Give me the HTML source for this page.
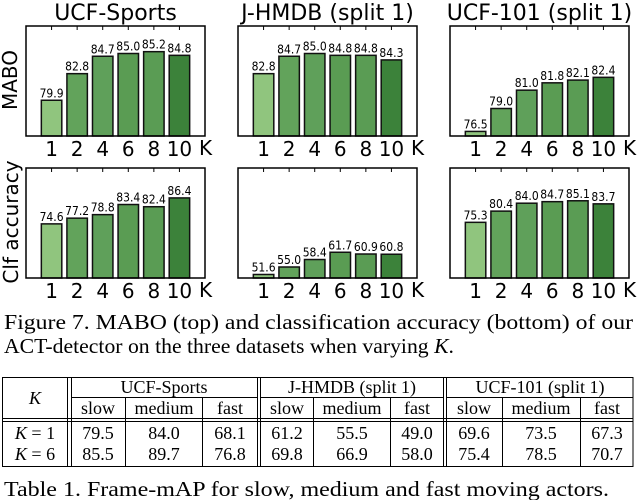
<!DOCTYPE html>
<html><head><meta charset="utf-8">
<style>
html,body{margin:0;padding:0;background:#fff;}
body{width:640px;height:500px;overflow:hidden;position:relative;}
svg{position:absolute;left:0;top:0;}
.ser{font-family:"Liberation Serif",serif;}
</style></head>
<body>
<svg id="fig" width="640" height="500" viewBox="0 0 640 500" xmlns="http://www.w3.org/2000/svg">
  <g id="charts"></g>
  <text x="0" y="0" transform="translate(17,80) rotate(-90)" text-anchor="middle" font-family="DejaVu Sans, sans-serif" font-size="20">MABO</text>
  <text x="0" y="0" transform="translate(18,222) rotate(-90)" text-anchor="middle" font-family="DejaVu Sans, sans-serif" font-size="20">Clf accuracy</text>
  <text class="ser" x="4" y="329" font-size="21" textLength="629" lengthAdjust="spacingAndGlyphs">Figure 7. MABO (top) and classification accuracy (bottom) of our</text>
  <text class="ser" x="4" y="353" font-size="21" textLength="450" lengthAdjust="spacingAndGlyphs">ACT-detector on the three datasets when varying <tspan font-style="italic">K</tspan>.</text>

  <g stroke="#000" stroke-width="1" fill="none">
    <rect x="2.5" y="377.5" width="630.5" height="89"/>
    <line x1="67.5" y1="377" x2="67.5" y2="467"/><line x1="71.5" y1="377" x2="71.5" y2="467"/>
    <line x1="257.5" y1="377" x2="257.5" y2="467"/><line x1="260.5" y1="377" x2="260.5" y2="467"/>
    <line x1="443.5" y1="377" x2="443.5" y2="467"/><line x1="446.5" y1="377" x2="446.5" y2="467"/>
    <line x1="71" y1="397.5" x2="257" y2="397.5"/><line x1="260" y1="397.5" x2="443" y2="397.5"/><line x1="446" y1="397.5" x2="633" y2="397.5"/>
    <line x1="2" y1="418.5" x2="633" y2="418.5"/><line x1="2" y1="421.5" x2="633" y2="421.5"/>
    <line x1="125.5" y1="397" x2="125.5" y2="467"/><line x1="202.5" y1="397" x2="202.5" y2="467"/>
    <line x1="313.5" y1="397" x2="313.5" y2="467"/><line x1="390.5" y1="397" x2="390.5" y2="467"/>
    <line x1="502.5" y1="397" x2="502.5" y2="467"/><line x1="580.5" y1="397" x2="580.5" y2="467"/>
  </g>
  <g class="ser" font-size="18" text-anchor="middle" fill="#000">
    <text x="35" y="404" font-style="italic">K</text>
    <text x="164" y="393">UCF-Sports</text>
    <text x="352" y="393">J-HMDB (split 1)</text>
    <text x="540" y="393">UCF-101 (split 1)</text>
    <g>
      <text x="98" y="414">slow</text><text x="164" y="414">medium</text><text x="230" y="414">fast</text>
      <text x="287" y="414">slow</text><text x="352" y="414">medium</text><text x="417" y="414">fast</text>
      <text x="474" y="414">slow</text><text x="541" y="414">medium</text><text x="607" y="414">fast</text>
    </g>
    <g>
      <text x="35" y="439"><tspan font-style="italic">K</tspan> = 1</text>
      <text x="98" y="439">79.5</text><text x="164" y="439">84.0</text><text x="230" y="439">68.1</text>
      <text x="287" y="439">61.2</text><text x="352" y="439">55.5</text><text x="417" y="439">49.0</text>
      <text x="474" y="439">69.6</text><text x="541" y="439">73.5</text><text x="607" y="439">67.3</text>
    </g>
    <g>
      <text x="35" y="460"><tspan font-style="italic">K</tspan> = 6</text>
      <text x="98" y="460">85.5</text><text x="164" y="460">89.7</text><text x="230" y="460">76.8</text>
      <text x="287" y="460">69.8</text><text x="352" y="460">66.9</text><text x="417" y="460">58.0</text>
      <text x="474" y="460">75.4</text><text x="541" y="460">78.5</text><text x="607" y="460">70.7</text>
    </g>
  </g>
  <text class="ser" x="4" y="496" font-size="21" textLength="605" lengthAdjust="spacingAndGlyphs">Table 1. Frame-mAP for slow, medium and fast moving actors.</text>
</svg>
<script>
const kLabels = ['1','2','4','6','8','10'];
const titles = ['UCF-Sports','J-HMDB (split 1)','UCF-101 (split 1)'];
const maboUCFSports = [79.9,82.8,84.7,85.0,85.2,84.8];
const maboJHMDB = [82.8,84.7,85.0,84.8,84.8,84.3];
const maboUCF101 = [76.5,79.0,81.0,81.8,82.1,82.4];
const clfUCFSports = [74.6,77.2,78.8,83.4,82.4,86.4];
const clfJHMDB = [51.6,55.0,58.4,61.7,60.9,60.8];
const clfUCF101 = [75.3,80.4,84.0,84.7,85.1,83.7];
const maboRange = [76,88];
const clfRange = [50,100];

const NS='http://www.w3.org/2000/svg';
const root=document.getElementById('charts');
const fills=['#90c57e','#62a35b','#5fa05a','#5a9c53','#5a9c54','#3c823a'];
const panelX=[26,238,450];
const PW=179;
function mk(tag,attrs,parent){const e=document.createElementNS(NS,tag);for(const k in attrs)e.setAttribute(k,attrs[k]);parent.appendChild(e);return e;}

function panel(pi,row,values,range,name){
  const x0=panelX[pi];
  const y0=row===0?26:168;
  const H=110;
  const g=mk('g',{},root);
  
  
  const xs=i=>x0+PW*(i+1)/7;
  const ys=v=>y0+H-(v-range[0])/(range[1]-range[0])*H;
  const bw=PW*0.8/7;
  values.forEach((v,i)=>{
    const r=mk('rect',{x:xs(i)-bw/2,y:ys(v),width:bw,height:y0+H-ys(v),fill:fills[i],stroke:'#111','stroke-width':1.5},g);
    
    
    const t=mk('text',{x:xs(i),y:ys(v)-3,'text-anchor':'middle','font-family':'DejaVu Sans, sans-serif','font-size':12,textLength:24,lengthAdjust:'spacingAndGlyphs'},g);
    
    
    t.textContent=v.toFixed(1);
  });
  const box=mk('rect',{x:x0,y:y0,width:PW,height:H,fill:'none',stroke:'#000','stroke-width':1.5},g);
  
  
  kLabels.forEach((k,i)=>{
    mk('line',{x1:xs(i),y1:y0,x2:xs(i),y2:y0+4,stroke:'#000','stroke-width':1},g);
    const t=mk('text',{x:xs(i),y:y0+H+20,'text-anchor':'middle','font-family':'DejaVu Sans, sans-serif','font-size':20},g);
    
    
    t.textContent=k;
  });
  const kt=mk('text',{x:x0+PW-6,y:y0+H+19,'font-family':'DejaVu Sans, sans-serif','font-size':20},g);
  
  
  kt.textContent='K';
  if(row===0){
    const tt=mk('text',{x:x0+PW/2,y:20,'text-anchor':'middle','font-family':'DejaVu Sans, sans-serif','font-size':22},g);
    
    
    tt.textContent=titles[pi];
  }
}
panel(0,0,maboUCFSports,maboRange,'mabo-ucf-sports');
panel(1,0,maboJHMDB,maboRange,'mabo-jhmdb');
panel(2,0,maboUCF101,maboRange,'mabo-ucf101');
panel(0,1,clfUCFSports,clfRange,'clf-ucf-sports');
panel(1,1,clfJHMDB,clfRange,'clf-jhmdb');
panel(2,1,clfUCF101,clfRange,'clf-ucf101');
</script>
</body></html>
